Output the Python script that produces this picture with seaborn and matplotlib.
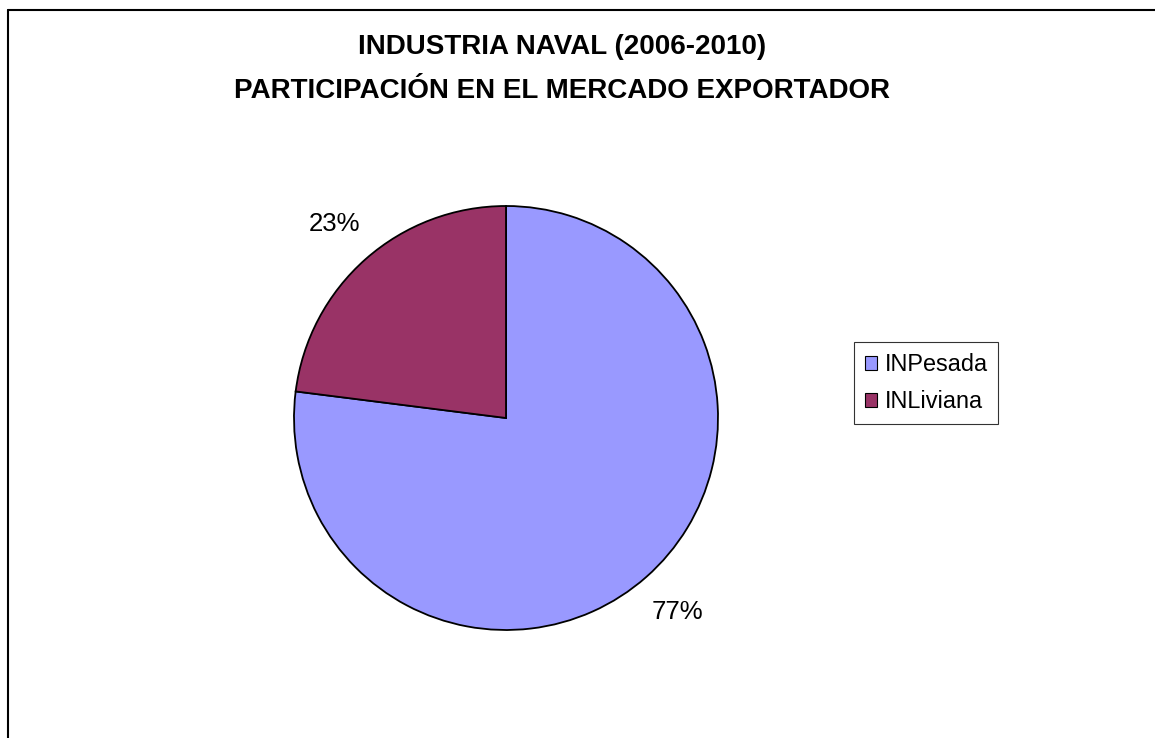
import matplotlib
matplotlib.use("Agg")
import matplotlib.pyplot as plt
import seaborn as sns
from matplotlib.lines import Line2D

categories = ["INPesada", "INLiviana"]
values = [77, 23]
colors = ["#9999FF", "#993366"]
title_lines = ["INDUSTRIA NAVAL (2006-2010)", "PARTICIPACIÓN EN EL MERCADO EXPORTADOR"]

sns.set_theme(style="white")
plt.rcParams['font.family'] = ['Liberation Sans', 'DejaVu Sans']
plt.rcParams['text.color'] = 'black'

W, H = 1155, 738
fig = plt.figure(figsize=(W / 100, H / 100), dpi=100)
fig.patch.set_facecolor("white")

cx, cy, r = 506, 418, 212
ax = fig.add_axes([(cx - r) / W, (H - cy - r) / H, 2 * r / W, 2 * r / H])
wedges, texts, autotexts = ax.pie(
    values, colors=sns.color_palette(colors), startangle=90, counterclock=False,
    autopct="%1.0f%%", pctdistance=1.22, labeldistance=None,
    wedgeprops=dict(edgecolor="black", linewidth=1.3),
    textprops=dict(fontsize=18.5, color="black"))
ax.set_xlim(-1, 1)
ax.set_ylim(-1, 1)
ax.set_aspect("equal")
ax.axis("off")

fig.text(562 / W, 1 - 47 / H, title_lines[0], ha="center", va="center",
         fontsize=20, fontweight="bold", color="black")
fig.text(562 / W, 1 - 91 / H, title_lines[1], ha="center", va="center",
         fontsize=20, fontweight="bold", color="black")

leg = fig.legend(wedges, categories, loc="center left",
                 bbox_to_anchor=(854 / W, 1 - 383 / H), fontsize=16.9,
                 frameon=True, fancybox=False, edgecolor="black",
                 handlelength=0.55, handleheight=0.55, handletextpad=0.3,
                 borderpad=0.45, labelspacing=0.6, borderaxespad=0)
leg.get_frame().set_linewidth(0.8)
for t in leg.get_texts():
    t.set_color("black")
for h in leg.legend_handles:
    h.set_linewidth(0.8)

# outer chart frame (left and top edges visible)
fig.add_artist(Line2D([7.5 / W, 7.5 / W], [0, 1 - 10 / H], color="black", lw=1.5))
fig.add_artist(Line2D([7.5 / W, 1], [1 - 10 / H, 1 - 10 / H], color="black", lw=1.5))

fig.savefig("out.png", dpi=100, facecolor="white")
